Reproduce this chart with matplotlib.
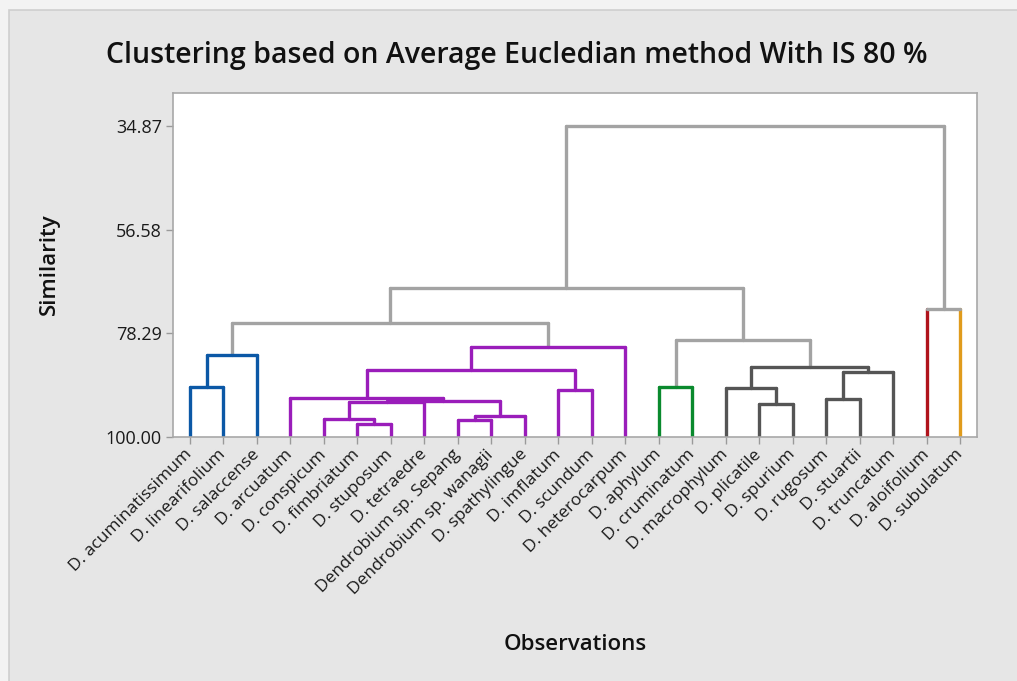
import numpy as np
import matplotlib.pyplot as plt
from matplotlib.patches import Rectangle

plt.rcParams['font.family'] = ['Open Sans', 'DejaVu Sans']

# observations in the order they sit on the x axis
labels = ["D. acuminatissimum", "D. linearifolium", "D. salaccense", "D. arcuatum",
          "D. conspicum", "D. fimbriatum", "D. stuposum", "D. tetraedre",
          "Dendrobium sp. Sepang", "Dendrobium sp. wanagii", "D. spathylingue",
          "D. imflatum", "D. scundum", "D. heterocarpum", "D. aphylum",
          "D. cruminatum", "D. macrophylum", "D. plicatile", "D. spurium",
          "D. rugosum", "D. stuartii", "D. truncatum", "D. aloifolium", "D. subulatum"]

# final cluster (cut at 80 % similarity) of each observation
leaf_colors = ["#0B58A6"] * 3 + ["#9A1DBA"] * 11 + ["#0A8A2E"] * 2 + ["#555555"] * 6 \
    + ["#B0141C", "#E09B1C"]

# linkage steps: leaves are 0..23, each merge makes node 24, 25, ...
merge_left = [0, 24, 5, 4, 27, 8, 29, 28, 3, 11, 32, 34, 25, 14, 17, 16, 19, 40, 39, 37, 36, 22, 44]
merge_right = [1, 2, 6, 26, 7, 9, 10, 30, 31, 12, 33, 13, 35, 15, 18, 38, 20, 21, 41, 42, 43, 23, 45]
merge_sim = [89.58, 82.88, 97.27, 96.16, 92.66, 96.44, 95.60, 92.35, 91.89, 90.15, 86.00,
             81.07, 76.10, 89.46, 93.15, 89.79, 91.97, 86.31, 85.39, 79.67, 68.77, 73.17, 34.87]

y_ticks = [100.00, 78.29, 56.58, 34.87]
cut_level = 80
link_gray = "#A3A3A3"

fig = plt.figure(figsize=(10.17, 6.81), dpi=100, facecolor="#F3F3F3")
# outer panel (only its top and left edge are inside the picture)
fig.patches.append(Rectangle((9 / 1017, -0.05), 1.1, 1 - 10 / 681 + 0.05, transform=fig.transFigure,
                             facecolor="#E6E6E6", edgecolor="#CFCFCF", lw=1.2, zorder=-10))

ax = fig.add_axes([173 / 1017, 1 - 437 / 681, 804 / 1017, 344 / 681])
ax.set_facecolor("white")

n = len(labels)
node_x = list(range(1, n + 1))
node_h = [100.0] * n
node_leaves = [[i] for i in range(n)]

lw = 2.4
for a, b, s in zip(merge_left, merge_right, merge_sim):
    leaves = node_leaves[a] + node_leaves[b]
    cols = set(leaf_colors[i] for i in leaves)
    col = cols.pop() if (len(cols) == 1 and s >= cut_level) else link_gray
    xa, xb = node_x[a], node_x[b]
    for child, xc in ((a, xa), (b, xb)):
        vcol = leaf_colors[child] if child < n else col
        ax.plot([xc, xc], [node_h[child], s], color=vcol, lw=lw, solid_capstyle="round", zorder=2)
    ax.plot([xa, xb], [s, s], color=col, lw=lw, solid_capstyle="round", zorder=3)
    node_x.append((xa + xb) / 2)
    node_h.append(s)
    node_leaves.append(leaves)

ax.set_xlim(0.5, n + 0.5)
ax.set_ylim(100, 27.9)
ax.set_yticks(y_ticks)
ax.set_yticklabels([f"{v:.2f}" for v in y_ticks], fontsize=13)
ax.set_xticks(range(1, n + 1))
ax.set_xticklabels(labels, rotation=45, ha="right", va="center", rotation_mode="anchor",
                   fontsize=12.5)
ax.tick_params(axis="both", colors="#9A9A9A", length=5, width=1, labelcolor="#1A1A1A")
ax.tick_params(axis="x", pad=6)
ax.tick_params(axis="y", pad=3)
for sp in ax.spines.values():
    sp.set_color("#A8A8A8")
    sp.set_linewidth(1.2)

fig.text(517 / 1017, 1 - 55 / 681, "Clustering based on Average Eucledian method With IS 80 %",
         ha="center", va="center", fontsize=20.5, fontweight="semibold", color="#111111")
fig.text(49 / 1017, 1 - 264 / 681, "Similarity", rotation=90, ha="center", va="center",
         fontsize=16, fontweight="semibold", color="#111111")
fig.text(575 / 1017, 1 - 645 / 681, "Observations", ha="center", va="center",
         fontsize=16, fontweight="semibold", color="#111111")

fig.savefig("out.png", dpi=100, facecolor=fig.get_facecolor())
